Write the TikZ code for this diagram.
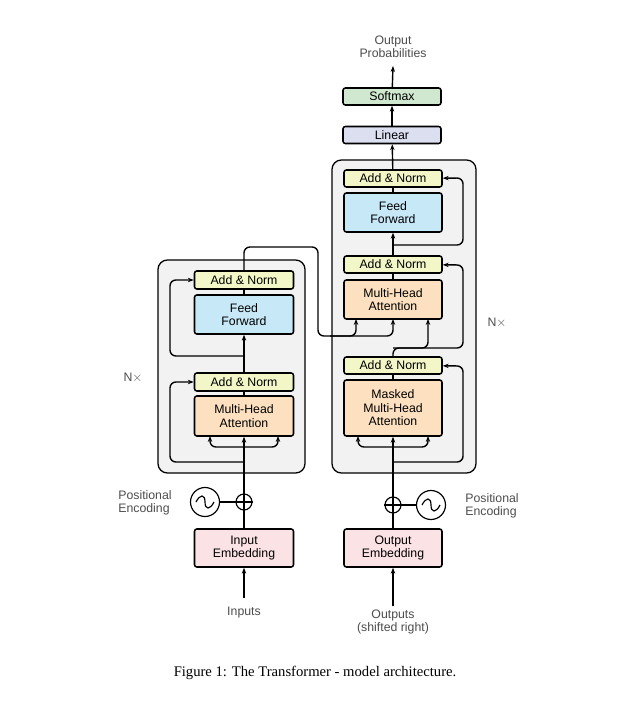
\documentclass[tikz,border=0pt]{standalone}
\usepackage{fontspec}
\setmainfont{Liberation Serif}
\newfontfamily\lab{Liberation Sans}
\usetikzlibrary{arrows.meta}
\definecolor{normc}{HTML}{F3F7C7}
\definecolor{ffc}{HTML}{C7E8F7}
\definecolor{attc}{HTML}{FCE0BF}
\definecolor{embc}{HTML}{FBE2E4}
\definecolor{linc}{HTML}{DCDFF0}
\definecolor{smc}{HTML}{CFE8CF}
\definecolor{blockc}{HTML}{F2F2F2}
\begin{document}
\begin{tikzpicture}[x=0.03cm,y=-0.03cm,
  box/.style={draw, line width=1.3pt, rounded corners=2pt, font=\lab\fontsize{10.5}{11.5}\selectfont, align=center, inner sep=0pt},
  blk/.style={draw, line width=1.1pt, rounded corners=8pt, fill=blockc},
  ar/.style={line width=1.2pt, -{Stealth[length=5pt]}, rounded corners=5pt},
  ln/.style={line width=1.2pt, rounded corners=5pt},
  txt/.style={font=\lab\fontsize{10.5}{11.5}\selectfont, text=black!70, align=center}]
\useasboundingbox (0,0) rectangle (622,708);
% blocks
\draw[blk] (158,260) rectangle (305,473);
\draw[blk] (332,160) rectangle (476,473);
% encoder
\node[box, fill=normc, minimum width=99*0.03cm, minimum height=18*0.03cm] (ean2) at (244,280) {Add \& Norm};
\node[box, fill=ffc, minimum width=99*0.03cm, minimum height=39*0.03cm] (eff) at (244,314.5) {Feed\\Forward};
\node[box, fill=normc, minimum width=99*0.03cm, minimum height=18*0.03cm] (ean1) at (244,382) {Add \& Norm};
\node[box, fill=attc, minimum width=99*0.03cm, minimum height=40*0.03cm] (emha) at (244,416) {Multi-Head\\Attention};
\node[box, fill=embc, minimum width=99*0.03cm, minimum height=38*0.03cm] (eemb) at (244,548) {Input\\Embedding};
\node[txt] (inp) at (244,613) {Inputs};
\node[draw, circle, line width=1pt, minimum size=16*0.03cm, inner sep=0pt] (eplus) at (244,502) {};
\draw[line width=1pt] (eplus.north) -- (eplus.south) (eplus.west) -- (eplus.east);
\node[draw, circle, line width=1pt, minimum size=29*0.03cm, inner sep=0pt] (epe) at (205,502) {};
\draw[line width=1pt] (196,502) .. controls (200,494) and (205,494) .. (205,502) .. controls (205,510) and (210,510) .. (214,502);
\node[txt, align=left] (epl) at (145,503) {Positional\\Encoding};
\node[txt] (enx) at (133,378) {N$\times$};
% decoder
\node[box, fill=smc, minimum width=98*0.03cm, minimum height=17*0.03cm] (soft) at (392,96.5) {Softmax};
\node[box, fill=linc, minimum width=98*0.03cm, minimum height=17*0.03cm] (lin) at (392,135) {Linear};
\node[txt] (outp) at (393,47) {Output\\Probabilities};
\node[box, fill=normc, minimum width=98*0.03cm, minimum height=17*0.03cm] (dan3) at (393,178.5) {Add \& Norm};
\node[box, fill=ffc, minimum width=98*0.03cm, minimum height=39*0.03cm] (dff) at (393,212.5) {Feed\\Forward};
\node[box, fill=normc, minimum width=98*0.03cm, minimum height=17*0.03cm] (dan2) at (393,264.5) {Add \& Norm};
\node[box, fill=attc, minimum width=98*0.03cm, minimum height=39*0.03cm] (dmha) at (393,299.5) {Multi-Head\\Attention};
\node[box, fill=normc, minimum width=98*0.03cm, minimum height=17*0.03cm] (dan1) at (393,365.5) {Add \& Norm};
\node[box, fill=attc, minimum width=98*0.03cm, minimum height=56*0.03cm] (dmmha) at (393,408) {Masked\\Multi-Head\\Attention};
\node[box, fill=embc, minimum width=98*0.03cm, minimum height=38*0.03cm] (demb) at (393,548) {Output\\Embedding};
\node[txt] (outs) at (393,622) {Outputs\\(shifted right)};
\node[draw, circle, line width=1pt, minimum size=16*0.03cm, inner sep=0pt] (dplus) at (393,505) {};
\draw[line width=1pt] (dplus.north) -- (dplus.south) (dplus.west) -- (dplus.east);
\node[draw, circle, line width=1pt, minimum size=29*0.03cm, inner sep=0pt] (dpe) at (431,505) {};
\draw[line width=1pt] (422,505) .. controls (426,497) and (431,497) .. (431,505) .. controls (431,513) and (436,513) .. (440,505);
\node[txt, align=left] (dpl) at (492,506) {Positional\\Encoding};
\node[txt] (dnx) at (497,323) {N$\times$};
\node[font=\fontsize{12.5}{14}\selectfont] (cap) at (315,673) {Figure 1: The Transformer - model architecture.};
% encoder connectors
\coordinate (e0) at (244,598);
\draw[ar] (e0) -- (eemb);
\draw[ln] (eemb) -- (eplus);
\draw[line width=1pt] (epe) -- (eplus);
\draw[ar] (eplus) -- (emha);
\draw[ar] (244,462) -| (170,382) -- (ean1);
\draw[ar] (244,447) -| (210,436);
\draw[ar] (244,447) -| (278,436);
\draw[ln] (emha) -- (ean1);
\draw[ar] (ean1) -- (eff);
\draw[ar] (244,356) -| (170,280) -- (ean2);
\draw[ln] (eff) -- (ean2);
\draw[ar] (ean2.north) |- (318,247) |- (356,336) -- (356,319);
\draw[ar] (330,336) -| (393,319);
% decoder connectors
\coordinate (d0) at (393,606);
\draw[ar] (d0) -- (demb);
\draw[ln] (demb) -- (dplus);
\draw[line width=1pt] (dpe) -- (dplus);
\draw[ar] (dplus) -- (dmmha);
\draw[ar] (393,462) -| (463,366) -- (dan1);
\draw[ar] (393,447) -| (358,436);
\draw[ar] (393,447) -| (428,436);
\draw[ln] (dmmha) -- (dan1);
\draw[ar] (dan1.north) |- (428,348) -- (428,319);
\draw[ar] (393,348) -| (463,265) -- (dan2);
\draw[ln] (dmha) -- (dan2);
\draw[ar] (dan2) -- (dff);
\draw[ar] (393,245) -| (463,178) -- (dan3);
\draw[ln] (dff) -- (dan3);
\draw[ar] (dan3) -- (lin);
\draw[ar] (lin) -- (soft);
\draw[ar] (soft) -- (393,66);
\end{tikzpicture}
\end{document}
